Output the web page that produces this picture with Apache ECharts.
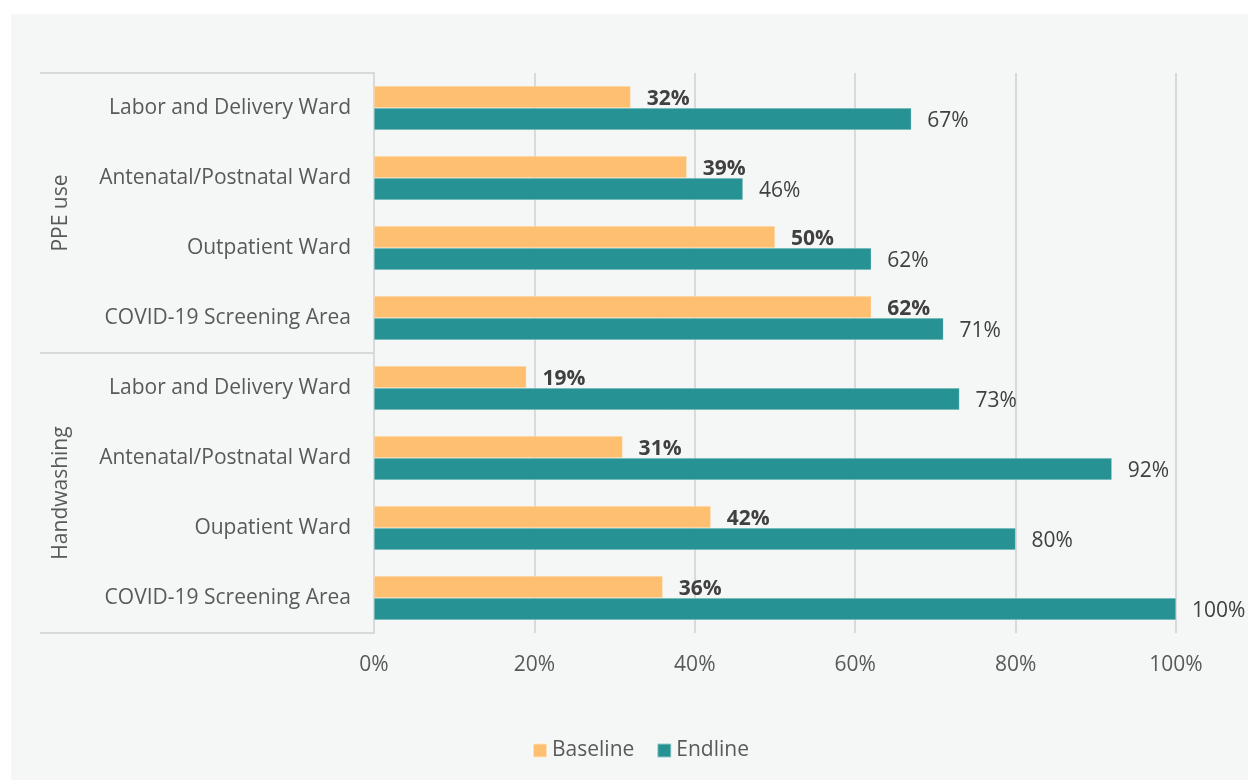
<!DOCTYPE html>
<html>
<head>
<meta charset="utf-8">
<script src="https://cdn.jsdelivr.net/npm/echarts@6/dist/echarts.min.js"></script>
<style>
html,body{margin:0;padding:0;background:#ffffff;width:1248px;height:780px;overflow:hidden;}
#chart{position:absolute;left:11px;top:14px;width:1237px;height:766px;}
</style>
</head>
<body>
<div id="chart"></div>
<script>
const categories = [
  "Labor and Delivery Ward",
  "Antenatal/Postnatal Ward",
  "Outpatient Ward",
  "COVID-19 Screening Area",
  "Labor and Delivery Ward",
  "Antenatal/Postnatal Ward",
  "Oupatient Ward",
  "COVID-19 Screening Area"
];
const groups = ["PPE use", "Handwashing"];
const baseline = [0.32, 0.39, 0.50, 0.62, 0.19, 0.31, 0.42, 0.36];
const endline = [0.67, 0.46, 0.62, 0.71, 0.73, 0.92, 0.80, 1.00];
const seriesNames = ["Baseline", "Endline"];
const xTicks = { min: 0, max: 1, interval: 0.2 };

const FONT = '"Open Sans", "Noto Sans", sans-serif';
const TXT = '#595959';
const FS = 21;
const pct = v => Math.round(v * 100) + '%';

const chart = echarts.init(document.getElementById('chart'));
chart.setOption({
  backgroundColor: '#f5f7f6',
  animation: false,
  textStyle: { fontFamily: FONT },
  grid: { left: 363, right: 72, top: 59, bottom: 147 },
  legend: {
    bottom: 14,
    left: 516,
    itemWidth: 14,
    itemHeight: 14,
    itemGap: 22,
    icon: 'rect',
    textStyle: { fontFamily: FONT, fontSize: FS, color: TXT },
    data: seriesNames
  },
  xAxis: {
    type: 'value',
    min: xTicks.min, max: xTicks.max, interval: xTicks.interval,
    axisLine: { show: false },
    axisTick: { show: false },
    splitLine: { lineStyle: { color: '#d9d9d9', width: 2 } },
    axisLabel: { formatter: pct, fontFamily: FONT, fontSize: FS, color: TXT, margin: 22 }
  },
  yAxis: [
    {
      type: 'category',
      inverse: true,
      data: categories,
      axisLine: { show: true, lineStyle: { color: '#d9d9d9', width: 2 } },
      axisTick: { show: false },
      axisLabel: { fontFamily: FONT, fontSize: FS, color: TXT, margin: 23 }
    },
    {
      type: 'category',
      inverse: true,
      position: 'left',
      data: groups,
      axisLine: { show: false },
      axisTick: { show: true, length: 334, lineStyle: { color: '#d9d9d9', width: 2 } },
      axisLabel: { fontFamily: FONT, fontSize: FS, color: TXT, rotate: 90, margin: 302 }
    }
  ],
  series: [
    {
      name: seriesNames[0], type: 'bar', yAxisIndex: 0,
      data: baseline, barWidth: 22, barGap: '0%',
      itemStyle: { color: '#ffbf70', borderColor: 'rgba(255,255,255,0.5)', borderWidth: 0.5 },
      label: { show: true, position: 'right', distance: 16, offset: [0, 2], formatter: p => pct(p.value),
        fontFamily: FONT, fontSize: FS, fontWeight: 'bold', color: '#404040' }
    },
    {
      name: seriesNames[1], type: 'bar', yAxisIndex: 0,
      data: endline, barWidth: 22, barGap: '0%',
      itemStyle: { color: '#279293', borderColor: 'rgba(255,255,255,0.5)', borderWidth: 0.5 },
      label: { show: true, position: 'right', distance: 16, offset: [0, 2], formatter: p => pct(p.value),
        fontFamily: FONT, fontSize: FS, color: '#404040' }
    }
  ]
});
</script>
</body>
</html>
